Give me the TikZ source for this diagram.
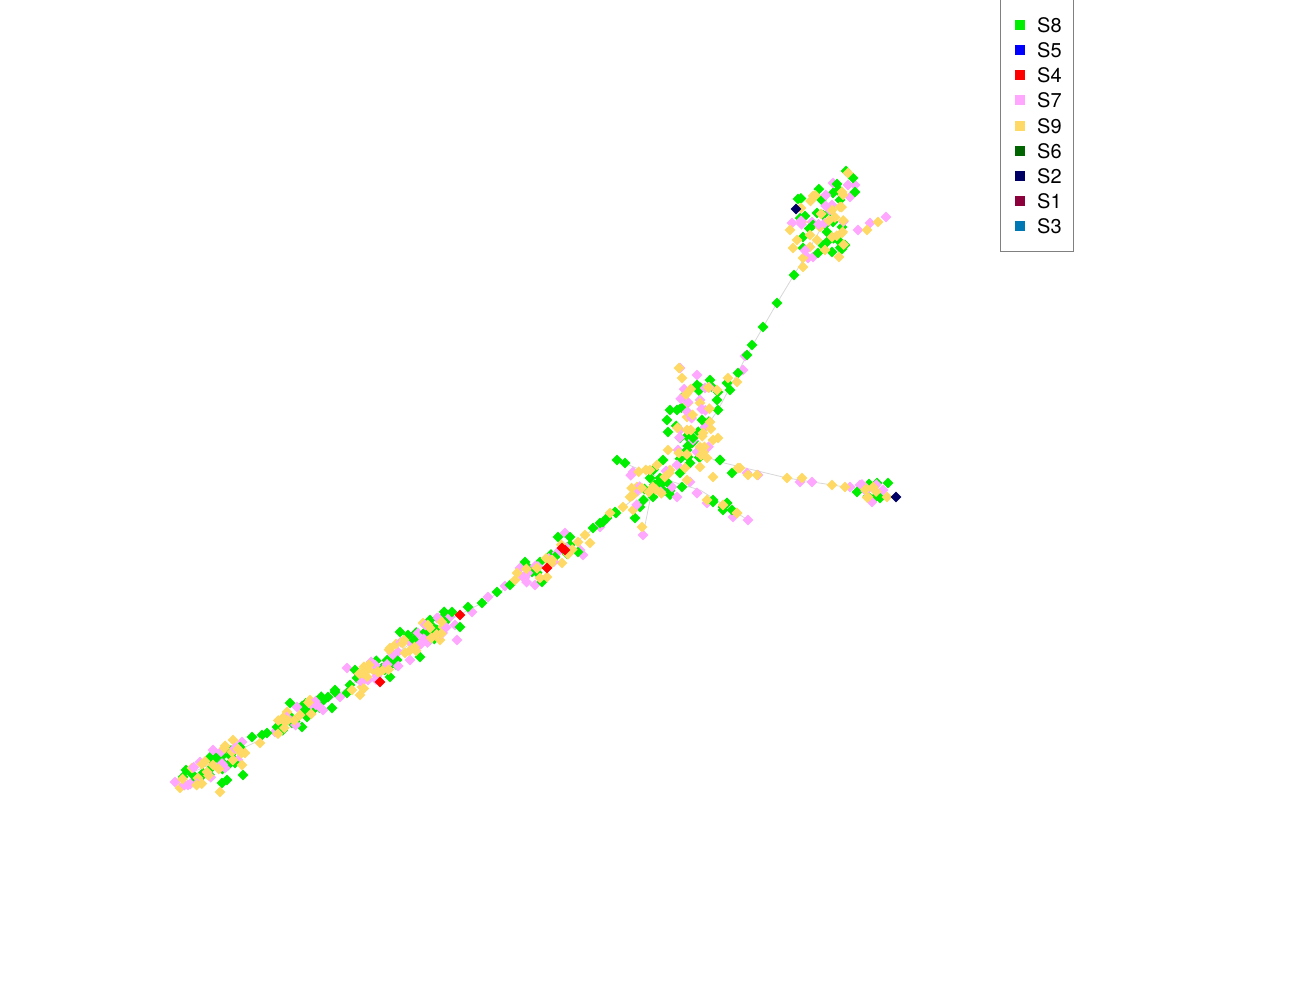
\documentclass[tikz,border=0pt]{standalone}
\usepackage{fontspec}
\setmainfont{TeX Gyre Heros}
\definecolor{cG}{RGB}{0,238,0}
\definecolor{cB}{RGB}{0,0,255}
\definecolor{cR}{RGB}{255,0,0}
\definecolor{cP}{RGB}{255,166,255}
\definecolor{cY}{RGB}{255,217,102}
\definecolor{cDG}{RGB}{0,100,0}
\definecolor{cN}{RGB}{0,0,100}
\definecolor{cM}{RGB}{140,0,60}
\definecolor{cT}{RGB}{0,120,180}
\definecolor{edgec}{RGB}{215,215,215}
\tikzset{
  edge/.style={draw=edgec, line width=0.8pt},
  lgbox/.style={draw=gray, line width=1pt},
  lgtext/.style={anchor=west, inner sep=0pt, font=\fontsize{20}{22}\selectfont},
}
\newcommand\dmsize{5.4}
\newcommand\dms[2]{\foreach \px/\py in {#2}{\fill[#1] (\px,\py) +(-\dmsize,0) -- +(0,\dmsize) -- +(\dmsize,0) -- +(0,-\dmsize) -- cycle;}}
% cloud along the spine direction: cx, cy, half-length, half-width, count, colour
\newcommand\cloud[6]{\foreach \i in {1,...,#5}{%
  \pgfmathsetmacro\cta{rand*#3}\pgfmathsetmacro\ctb{rand*#4}%
  \pgfmathsetmacro\qx{#1+\cta*0.84+\ctb*0.54}\pgfmathsetmacro\qy{#2-\cta*0.54+\ctb*0.84}%
  \fill[#6] (\qx,\qy) +(-\dmsize,0) -- +(0,\dmsize) -- +(\dmsize,0) -- +(0,-\dmsize) -- cycle;}}
% box cloud: cx, cy, sx, sy, count, colour
\newcommand\bcloud[6]{\foreach \i in {1,...,#5}{%
  \pgfmathsetmacro\qx{#1+rand*#3}\pgfmathsetmacro\qy{#2+rand*#4}%
  \fill[#6] (\qx,\qy) +(-\dmsize,0) -- +(0,\dmsize) -- +(\dmsize,0) -- +(0,-\dmsize) -- cycle;}}
\begin{document}
\begin{tikzpicture}[x=1pt,y=-1pt]
\pgfmathsetseed{11}
\useasboundingbox (0,0) rectangle (1300,1000);
% edges
\coordinate (a1) at (183,777);
\coordinate (a2) at (260,740);
\coordinate (a3) at (330,700);
\coordinate (a4) at (430,630);
\coordinate (a5) at (482,603);
\coordinate (a6) at (555,557);
\coordinate (a7) at (616,513);
\coordinate (a8) at (660,478);
\coordinate (hub) at (690,450);
\coordinate (u1) at (718,410);
\coordinate (u2) at (747,355);
\coordinate (u3) at (777,303);
\coordinate (u4) at (800,265);
\coordinate (u5) at (820,230);
\coordinate (r1) at (720,462);
\coordinate (r2) at (787,478);
\coordinate (r3) at (845,487);
\coordinate (r4) at (877,490);
\coordinate (l1) at (700,490);
\coordinate (l2) at (748,520);
\coordinate (w1) at (617,460);
\coordinate (d1) at (650,500);
\coordinate (d2) at (643,535);
\draw[edge] (a1) -- (a2) -- (a3) -- (a4) -- (a5) -- (a6) -- (a7) -- (a8) -- (hub) -- (u1) -- (u2) -- (u3) -- (u4) -- (u5);
\draw[edge] (hub) -- (r1) -- (r2) -- (r3) -- (r4);
\draw[edge] (a8) -- (l1) -- (l2);
\draw[edge] (w1) -- (a8);
\draw[edge] (d1) -- (d2);
% filler clouds (green, underneath)
\cloud{212}{766}{34}{10}{16}{cG}
\cloud{300}{714}{30}{7}{12}{cG}
\cloud{375}{670}{24}{10}{8}{cG}
\cloud{428}{633}{28}{10}{11}{cG}
\cloud{548}{562}{32}{8}{6}{cG}
\bcloud{822}{220}{22}{32}{11}{cG}
\bcloud{694}{425}{18}{40}{14}{cG}
\bcloud{652}{487}{22}{18}{9}{cG}
\bcloud{870}{491}{10}{7}{3}{cG}
% pink
\dms{cP}{833/183,848/185,855/185,850/197,832/205,792/223,858/230,870/223,886/217,813/257,808/258,830/210,812/222,
697/375,743/370,705/388,700/400,680/430,705/427,693/440,678/450,697/452,633/472,677/465,690/482,672/487,697/493,677/497,747/473,643/535,748/520,733/517,707/503,
758/475,812/482,800/482,850/487,860/485,872/502,883/490,697/493,
565/533,583/555,557/553,520/568,523/577,535/585,580/550,
488/597,472/612,437/618,450/617,418/633,457/640,347/668,398/652,340/697,410/642,
297/707,323/710,242/742,213/750,200/762,175/782,225/768,275/732,745/356,680/368,
600/527,505/586,455/625,410/660,368/680,238/760,188/785}
% green
\dms{cG}{846/171,853/178,837/184,833/193,855/192,840/200,798/199,805/216,817/213,823/215,825/225,842/227,803/237,827/232,838/240,845/245,842/249,803/248,827/242,818/253,832/252,794/275,833/222,813/225,
747/355,738/373,727/383,697/385,710/380,718/392,717/400,718/410,670/410,677/410,667/420,702/420,668/432,680/438,693/438,720/460,688/457,663/460,617/460,625/463,650/478,660/478,667/482,680/473,682/487,653/497,640/507,635/518,615/512,603/522,713/500,723/507,727/503,732/473,690/463,687/450,
877/483,888/483,857/492,880/498,720/460,713/502,727/503,723/510,732/510,
616/513,607/518,600/523,593/528,558/537,570/537,570/545,578/552,555/557,540/562,525/562,532/572,542/582,510/585,497/592,
482/603,452/612,460/627,430/620,430/640,425/632,400/632,408/635,420/657,397/660,382/668,390/677,355/670,357/678,350/685,335/692,347/693,437/635,
335/690,328/697,320/701,290/703,332/708,313/710,307/717,302/727,292/723,277/727,267/733,262/735,252/737,240/747,222/762,235/763,212/767,203/773,183/777,227/780,243/775,193/782,222/783,
777/303,763/327,752/345,730/390,468/607,445/622,414/640,186/770}
% yellow
\dms{cY}{848/173,842/192,840/207,832/210,801/208,802/222,790/230,820/227,832/237,810/235,797/240,817/240,793/248,810/247,825/250,803/258,803/267,839/257,867/230,878/222,842/233,
679/368,682/378,717/390,687/393,688/403,700/403,687/417,710/422,687/430,703/433,713/440,718/438,700/447,668/450,657/465,670/470,685/468,700/467,707/458,713/477,740/468,757/475,637/487,630/497,623/507,633/510,653/487,642/527,737/513,687/480,
787/478,802/478,832/485,845/487,865/487,868/497,887/497,738/468,748/475,707/500,737/513,723/505,
585/535,590/543,578/542,552/560,562/563,517/573,515/580,540/578,547/577,
423/623,443/627,440/640,430/628,390/648,405/653,372/663,375/672,367/677,362/687,360/695,383/670,417/647,
310/700,300/715,285/722,260/743,233/740,232/752,245/753,192/768,198/778,180/788,220/792,207/772,242/765,213/765,
737/382,728/378,610/513,650/470,396/644,352/690,287/712}
% filler clouds (pink and yellow, on top)
\cloud{212}{766}{34}{10}{10}{cP}\cloud{212}{766}{34}{10}{12}{cY}
\cloud{300}{714}{30}{7}{6}{cP}\cloud{300}{714}{30}{7}{8}{cY}
\cloud{375}{670}{24}{10}{9}{cP}\cloud{375}{670}{24}{10}{10}{cY}
\cloud{428}{633}{28}{10}{10}{cP}\cloud{428}{633}{28}{10}{10}{cY}
\cloud{548}{562}{32}{8}{8}{cP}\cloud{548}{562}{32}{8}{8}{cY}
\bcloud{822}{220}{22}{32}{8}{cP}\bcloud{822}{220}{22}{32}{12}{cY}
\bcloud{694}{425}{18}{40}{10}{cP}\bcloud{694}{425}{18}{40}{14}{cY}
\bcloud{652}{487}{22}{18}{6}{cP}\bcloud{652}{487}{22}{18}{10}{cY}
\bcloud{870}{491}{10}{7}{3}{cP}\bcloud{870}{491}{10}{7}{5}{cY}
% red and navy
\dms{cR}{562/548,565/550,547/568,460/615,380/682}
\dms{cN}{796/209,896/497}
% legend
\draw[lgbox] (1000,-2) rectangle (1073,252);
\foreach \c/\t/\yy in {cG/S8/25,cB/S5/50,cR/S4/75,cP/S7/100,cY/S9/126,cDG/S6/151,cN/S2/176,cM/S1/201,cT/S3/226}{
  \fill[\c] (1014.5,\yy-5) rectangle (1024.5,\yy+5);
  \node[lgtext] (lg\t) at (1037,\yy) {\t};
}
\end{tikzpicture}
\end{document}
